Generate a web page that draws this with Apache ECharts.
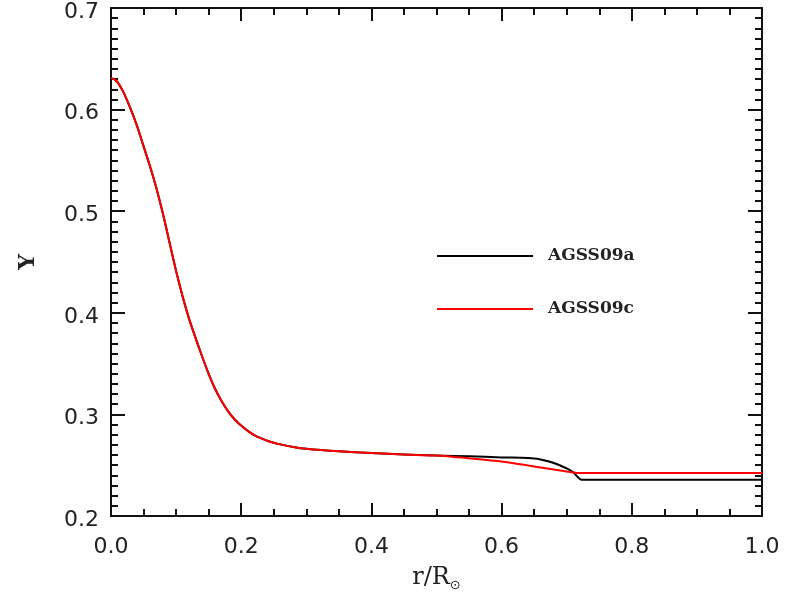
<!DOCTYPE html>
<html>
<head>
<meta charset="utf-8">
<script src="https://cdn.jsdelivr.net/npm/echarts@6/dist/echarts.min.js"></script>
<style>html,body{margin:0;padding:0;background:#fff}#c{width:794px;height:598px}</style>
</head>
<body>
<div id="c"></div>
<script>
// shared inner part (both models coincide)
var rShared = [0.000, 0.005, 0.010, 0.015, 0.020, 0.030, 0.040, 0.050, 0.060, 0.070, 0.080, 0.090, 0.100, 0.110, 0.120, 0.130, 0.140, 0.150, 0.160, 0.170, 0.180, 0.190, 0.200, 0.210, 0.220, 0.230, 0.240, 0.250, 0.260, 0.280, 0.300, 0.350, 0.400, 0.450, 0.500];
var yShared = [0.631, 0.630, 0.627, 0.622, 0.616, 0.601, 0.584, 0.564, 0.544, 0.522, 0.497, 0.469, 0.441, 0.416, 0.394, 0.375, 0.357, 0.340, 0.325, 0.313, 0.303, 0.295, 0.289, 0.2838, 0.2797, 0.2766, 0.2741, 0.2721, 0.2705, 0.2680, 0.2662, 0.2637, 0.2620, 0.2605, 0.2595];
// outer part of AGSS09a
var rA = [0.55, 0.60, 0.63, 0.65, 0.66, 0.67, 0.68, 0.69, 0.70, 0.71, 0.723, 1.00];
var yA = [0.2587, 0.2577, 0.2573, 0.2566, 0.2556, 0.2541, 0.2522, 0.2497, 0.2468, 0.2430, 0.2357, 0.2357];
// outer part of AGSS09c
var rC = [0.55, 0.60, 0.65, 0.68, 0.70, 0.715, 1.00];
var yC = [0.2568, 0.2537, 0.2488, 0.2458, 0.2438, 0.2424, 0.2424];
var seriesNames = ['AGSS09a', 'AGSS09c'];
var xTicks = [0.0, 0.2, 0.4, 0.6, 0.8, 1.0];
var yTicks = [0.2, 0.3, 0.4, 0.5, 0.6, 0.7];

function pairs(xs, ys) { return xs.map(function (x, i) { return [x, ys[i]]; }); }
var dataA = pairs(rShared, yShared).concat(pairs(rA, yA));
var dataC = pairs(rShared, yShared).concat(pairs(rC, yC));

var axisCol = '#111';
function xAx(pos, labels) {
  return {
    type: 'value', position: pos, min: 0, max: 1, interval: 0.2,
    axisLine: { show: true, onZero: false, lineStyle: { color: axisCol, width: 2 } },
    axisTick: { show: true, inside: true, length: 13, lineStyle: { color: axisCol, width: 2 } },
    minorTick: { show: true, splitNumber: 4, length: 7, lineStyle: { color: axisCol, width: 2 } },
    splitLine: { show: false }, minorSplitLine: { show: false },
    axisLabel: { show: labels, margin: 20, color: '#222', fontFamily: 'DejaVu Sans', fontSize: 22,
      formatter: function (v) { return v.toFixed(1); } },
    name: labels ? 'r/R{s|⊙}' : '', nameLocation: 'middle', nameGap: 47,
    nameTextStyle: { fontFamily: 'DejaVu Serif', fontSize: 24, color: '#222',
      rich: { s: { fontFamily: 'DejaVu Sans', fontSize: 13, color: '#222', verticalAlign: 'bottom', padding: [16, 0, 0, 0] } } }
  };
}
function yAx(pos, labels) {
  return {
    type: 'value', position: pos, min: 0.2, max: 0.7, interval: 0.1,
    axisLine: { show: true, onZero: false, lineStyle: { color: axisCol, width: 2 } },
    axisTick: { show: true, inside: true, length: 14, lineStyle: { color: axisCol, width: 2 } },
    minorTick: { show: true, splitNumber: 10, length: 7, lineStyle: { color: axisCol, width: 2 } },
    splitLine: { show: false }, minorSplitLine: { show: false },
    axisLabel: { show: labels, margin: 12, color: '#222', fontFamily: 'DejaVu Sans', fontSize: 22,
      formatter: function (v) { return '{v|' + v.toFixed(1) + '}'; },
      rich: { v: { fontFamily: 'DejaVu Sans', fontSize: 22, color: '#222', padding: [8, 0, 0, 0] } } },
    name: labels ? 'Y' : '', nameLocation: 'middle', nameGap: 72, nameRotate: 90,
    nameTextStyle: { fontFamily: 'DejaVu Serif', fontWeight: 'bold', fontSize: 22, color: '#222' }
  };
}

var chart = echarts.init(document.getElementById('c'), null, { renderer: 'canvas' });
chart.setOption({
  animation: false,
  backgroundColor: '#fff',
  grid: { left: 111, right: 32, top: 8, bottom: 82, containLabel: false },
  xAxis: [xAx('bottom', true), xAx('top', false)],
  yAxis: [yAx('left', true), yAx('right', false)],
  legend: {
    orient: 'vertical', left: 437, top: 246, itemGap: 33, padding: 0,
    icon: 'rect', itemWidth: 96, itemHeight: 2,
    textStyle: { fontFamily: 'DejaVu Serif', fontWeight: 'bold', fontSize: 17, color: '#222', lineHeight: 20, padding: [0, 0, 0, 10] },
    data: seriesNames
  },
  series: [
    { name: seriesNames[0], type: 'line', data: dataA, symbol: 'none', smooth: 0.2,
      lineStyle: { color: '#000', width: 2, join: 'round' }, itemStyle: { color: '#000' }, xAxisIndex: 0, yAxisIndex: 0 },
    { name: seriesNames[1], type: 'line', data: dataC, symbol: 'none', smooth: 0.2,
      lineStyle: { color: '#ff0000', width: 2, join: 'round' }, itemStyle: { color: '#ff0000' }, xAxisIndex: 0, yAxisIndex: 0 }
  ]
});
</script>
</body>
</html>
